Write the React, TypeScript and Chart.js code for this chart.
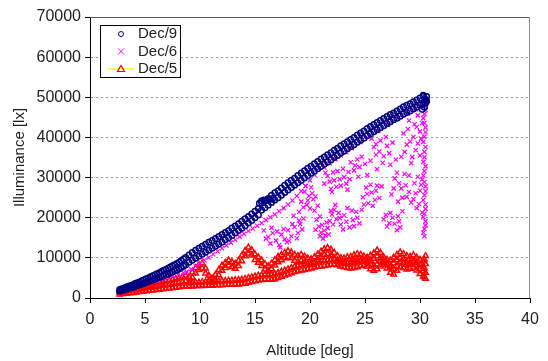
import React, { useEffect, useRef } from "react";
import { Chart, registerables } from "chart.js";

Chart.register(...registerables);

// ---------- Axis ranges ----------
const xMin = 0, xMax = 40, xStep = 5;
const yMin = 0, yMax = 70000, yStep = 10000;
const seriesNames = ["Dec/9", "Dec/6", "Dec/5"];

// ---------- Dec/9 (navy circles) ----------
const dec9LowAlt = [2.7, 2.9, 3.1, 3.3, 3.5, 3.7, 3.9, 4.1, 4.3, 4.5, 4.7, 4.9, 5.1, 5.3, 5.5, 5.7, 5.9, 6.1, 6.3, 6.5, 6.7, 6.9, 7.1, 7.3, 7.5, 7.7, 7.9, 8.1, 8.3, 8.5];
const dec9LowTop = [2100, 2300, 2500, 2700, 2900, 3100, 3300, 3600, 3800, 4000, 4300, 4500, 4800, 5000, 5300, 5500, 5800, 6000, 6300, 6600, 6900, 7100, 7400, 7700, 8000, 8300, 8600, 8900, 9300, 9700];
const dec9LowBottom = [1700, 1900, 2000, 2200, 2400, 2500, 2700, 2900, 3100, 3300, 3500, 3700, 3900, 4100, 4300, 4500, 4700, 4900, 5100, 5300, 5600, 5800, 6000, 6300, 6500, 6800, 7000, 7300, 7600, 7900];

const dec9MidAlt = [8.7, 9.0, 9.3, 9.6, 9.9, 10.2, 10.5, 10.8, 11.1, 11.4, 11.7, 12.0, 12.3, 12.6, 12.9, 13.2, 13.5, 13.8, 14.1, 14.4, 14.7, 15.0, 15.3];
const dec9MidUpper = [10100, 10700, 11300, 11900, 12400, 12900, 13400, 13900, 14300, 14800, 15300, 15800, 16300, 16800, 17400, 17900, 18500, 19100, 19700, 20300, 20900, 21600, 22300];
const dec9MidLower = [8300, 8900, 9400, 9900, 10400, 10900, 11400, 11900, 12400, 12900, 13400, 13900, 14500, 15000, 15600, 16200, 16800, 17400, 18000, 18700, 19300, 20000, 20700];

const dec9Step: [number, number][] = [[15.4, 23600], [15.6, 24200], [15.8, 24400], [16.0, 24300], [16.2, 24500], [16.4, 24600], [16.6, 24800]];

const dec9HighAlt = [15.6, 15.9, 16.2, 16.5, 16.8, 17.1, 17.4, 17.7, 18.0, 18.3, 18.6, 18.9, 19.2, 19.5, 19.8, 20.1, 20.4, 20.7, 21.0, 21.3, 21.6, 21.9, 22.2, 22.5, 22.8, 23.1, 23.4, 23.7, 24.0, 24.3, 24.6, 24.9, 25.2, 25.5, 25.8, 26.1, 26.4, 26.7, 27.0, 27.3, 27.6, 27.9, 28.2, 28.5, 28.8, 29.1, 29.4, 29.7, 30.0, 30.3];
const dec9HighUpper = [23700, 24300, 24800, 25600, 26200, 26700, 27400, 28100, 28700, 29300, 29800, 30500, 31100, 31700, 32300, 32800, 33400, 34000, 34600, 35100, 35700, 36200, 36800, 37300, 37900, 38400, 38900, 39500, 40000, 40600, 41100, 41600, 42200, 42700, 43200, 43700, 44200, 44700, 45200, 45700, 46100, 46600, 47100, 47600, 48000, 48400, 48900, 49300, 49800, 50200];
const dec9HighLower = [21900, 22500, 23100, 23800, 24400, 25000, 25600, 26300, 26900, 27500, 28100, 28700, 29300, 29900, 30500, 31100, 31600, 32200, 32800, 33300, 33900, 34400, 35000, 35500, 36100, 36600, 37200, 37700, 38200, 38800, 39300, 39800, 40400, 40900, 41400, 41900, 42400, 42900, 43400, 43900, 44400, 44800, 45300, 45800, 46200, 46600, 47100, 47500, 48000, 48400];

const dec9Tip: [number, number][] = [[30.4, 47500], [30.5, 48500], [30.5, 49500], [30.6, 50200], [30.3, 50500], [30.6, 49000], [30.2, 47000]];

// ---------- Dec/6 (magenta crosses) ----------
const dec6LowAlt = [3.0, 3.5, 4.0, 4.5, 5.0, 5.5, 6.0, 6.5, 7.0, 7.5, 8.0, 8.5];
const dec6LowLux = [1900, 2300, 2700, 3100, 3500, 3900, 4300, 4700, 5100, 5500, 5900, 6300];

const dec6LineAlt = [8.8, 9.2, 9.6, 10.0, 10.4, 10.8, 11.2, 11.6, 12.0, 12.4, 12.8, 13.2, 13.6, 14.0, 14.4, 14.8, 15.2, 15.6, 16.0, 16.4, 16.8, 17.2, 17.6, 18.0, 18.4, 18.8, 19.2, 19.6, 20.0, 20.4, 20.8];
const dec6LineLux = [6500, 7200, 7900, 8700, 9400, 10100, 10900, 11600, 12400, 13100, 13800, 14500, 15300, 16000, 16700, 17300, 18000, 18700, 19400, 20100, 20800, 21600, 22400, 23300, 24300, 25400, 26600, 27900, 29300, 30700, 32200];

const dec6Edge: [number, number][] = [[21.3, 32500], [21.8, 33500], [22.3, 34600], [22.8, 35500], [23.3, 36300], [23.8, 37300], [24.6, 38800], [25.4, 40300], [26.2, 41600], [27.1, 43200], [28.0, 44700], [28.9, 46000], [29.6, 47000]];

const dec6Cloud: [number, number][] = [
  [15.8, 16800], [16.2, 15200], [16.5, 17500], [16.9, 14300], [17.2, 13200], [17.4, 15800], [17.7, 14600], [18.0, 16900], [18.3, 15400], [18.6, 17700], [18.9, 16200], [19.1, 18400], [16.6, 16200], [17.9, 13900], [17.3, 12600],
  [16.0, 14800], [16.4, 13600], [17.0, 16600], [17.6, 17200], [18.1, 14200], [18.4, 18400], [18.8, 14900], [19.3, 17100], [19.0, 19300],
  [18.5, 20500], [19.0, 21500], [19.4, 19800],
  [19.2, 24000], [19.5, 26500], [19.7, 23200], [19.9, 25400], [20.1, 27600], [20.3, 24600], [19.6, 27900],
  [19.4, 22600], [19.8, 24300], [20.0, 22300], [20.2, 26100], [20.5, 25300], [20.7, 23000],
  [20.4, 21800], [20.6, 19500], [20.8, 17800], [21.0, 16300], [21.2, 14800], [21.4, 15600], [21.6, 17400], [21.8, 19200], [22.0, 20800], [22.2, 22000], [22.4, 19600], [22.6, 21200], [20.9, 20300], [21.5, 18800],
  [20.5, 17000], [20.9, 15400], [21.1, 18200], [21.3, 16800], [21.7, 15800], [21.9, 21700], [22.1, 18300], [22.3, 23200], [22.7, 19900],
  [21.3, 28500], [21.6, 30400], [21.9, 27200], [22.2, 29300], [22.5, 31600], [22.8, 28000], [23.1, 30100], [23.4, 27000], [23.6, 29600], [22.0, 26400],
  [21.4, 31200], [21.8, 29000], [22.1, 31300], [22.4, 27700], [22.7, 29600], [23.0, 32200], [23.3, 28500], [23.5, 31400],
  [22.8, 18300], [23.1, 20600], [23.4, 22400], [23.6, 17600], [23.9, 19400], [24.2, 21500], [24.5, 18600],
  [23.0, 17100], [23.3, 19000], [23.8, 21800], [24.0, 17900], [24.3, 20000], [24.7, 22000],
  [23.7, 33800], [24.0, 31800], [24.3, 34500], [24.5, 32600],
  [24.1, 33000], [24.4, 30200], [24.7, 35200], [25.0, 33400], [25.2, 30600],
  [24.8, 25100], [25.1, 27500], [25.3, 23600], [25.6, 26300], [25.9, 24400], [26.1, 28000],
  [24.9, 23300], [25.2, 25900], [25.5, 28200], [25.7, 23000], [26.0, 26700], [26.3, 24900], [26.5, 27800],
  [25.5, 34200], [25.8, 37600], [26.1, 32100], [26.4, 39200], [26.7, 35300], [27.0, 37900], [27.3, 33200], [26.0, 35700],
  [25.6, 39700], [26.0, 38300], [26.3, 36500], [26.6, 33700], [26.9, 40100], [27.2, 36100], [27.5, 38700], [27.8, 34500],
  [26.7, 19600], [27.0, 17800], [27.3, 21200], [27.7, 18500], [28.0, 20400], [28.2, 17600],
  [26.9, 20700], [27.2, 18700], [27.5, 20000], [27.9, 16900], [28.1, 19100], [28.4, 21600],
  [27.4, 25800], [27.7, 29800], [28.0, 24000], [28.3, 27300], [28.6, 30900], [28.8, 25200],
  [27.6, 27300], [27.9, 31200], [28.1, 28600], [28.4, 25000], [28.7, 28100], [29.0, 26400], [29.0, 30500],
  [28.3, 35200], [28.5, 41000], [28.8, 38200], [29.0, 44200], [29.2, 33600], [29.4, 40100], [29.6, 36800], [29.7, 42600],
  [28.6, 36400], [28.9, 42100], [29.1, 39000], [29.3, 35100], [29.5, 43300], [29.8, 38500], [30.0, 35500], [30.1, 39700],
  [29.2, 23800], [29.5, 28600], [29.7, 22400], [30.0, 26700], [30.2, 29500],
  [29.4, 24600], [29.6, 26100], [29.9, 23400], [30.1, 28200], [30.2, 21300], [29.8, 30200],
  [30.4, 15400], [30.4, 17200], [30.5, 19100], [30.4, 21000], [30.5, 23300], [30.4, 25600], [30.5, 27800], [30.3, 30500], [30.5, 32800], [30.4, 35100], [30.5, 37600], [30.4, 40200], [30.5, 42500], [30.3, 44800], [30.5, 46800],
  [30.3, 16300], [30.5, 18100], [30.3, 20100], [30.5, 22200], [30.3, 24400], [30.5, 26600], [30.4, 28900], [30.4, 31600], [30.3, 33900], [30.4, 36400], [30.3, 38900], [30.5, 41300], [30.4, 43600], [30.4, 45800], [30.3, 47700],
  [29.8, 45500], [30.0, 41500], [30.1, 47800], [30.2, 43600], [30.6, 48900]
];

// ---------- Dec/5 (red triangles) ----------
const dec5WedgeAlt = [2.7, 3.0, 3.3, 3.6, 3.9, 4.2, 4.5, 4.8, 5.1, 5.4, 5.7, 6.0, 6.3, 6.6, 6.9, 7.2, 7.5, 7.8, 8.1, 8.4, 8.7];
const dec5WedgeTop = [1900, 2100, 2200, 2400, 2600, 2700, 2900, 3000, 3200, 3400, 3500, 3700, 3900, 4000, 4200, 4400, 4600, 4800, 5000, 5300, 5600];
const dec5WedgeMid = [1400, 1500, 1700, 1800, 1900, 2100, 2200, 2300, 2500, 2600, 2700, 2900, 3000, 3100, 3300, 3400, 3500, 3700, 3800, 4000, 4200];
const dec5WedgeBottom = [900, 1000, 1100, 1200, 1300, 1400, 1500, 1600, 1700, 1800, 1900, 2000, 2100, 2200, 2300, 2400, 2500, 2600, 2700, 2800, 2900];

const dec5BandAlt = [9.0, 9.3, 9.6, 9.9, 10.2, 10.5, 10.8, 11.1, 11.4, 11.7, 12.0, 12.3, 12.6, 12.9, 13.2, 13.5, 13.8, 14.1, 14.4, 14.7, 15.0, 15.3, 15.6, 15.9, 16.2, 16.5, 16.8, 17.1, 17.4, 17.7, 18.0, 18.3, 18.6, 18.9, 19.2, 19.5, 19.8, 20.1, 20.4, 20.7, 21.0, 21.3, 21.6, 21.9, 22.2, 22.5, 22.8, 23.1, 23.4, 23.7, 24.0, 24.3, 24.6, 24.9, 25.2, 25.5, 25.8, 26.1, 26.4, 26.7, 27.0, 27.3, 27.6, 27.9, 28.2, 28.5, 28.8, 29.1, 29.4, 29.7, 30.0, 30.3];
const dec5UpperA = [5200, 6400, 7500, 8300, 8700, 7400, 5600, 4900, 5800, 7000, 8100, 8800, 9400, 9000, 8600, 9300, 10600, 11800, 12600, 12000, 10900, 10200, 9400, 8500, 8000, 8600, 9500, 10300, 10800, 11300, 11700, 11400, 10800, 10500, 10800, 10400, 9900, 9700, 10200, 10900, 11600, 12200, 12500, 12100, 11300, 10500, 10000, 9900, 10200, 10300, 10700, 11000, 10800, 10400, 10100, 10600, 11200, 11900, 11300, 10200, 9600, 9400, 10100, 10800, 11400, 11000, 10500, 10300, 10700, 10100, 9600, 9200];
const dec5UpperB = [4000, 5100, 6100, 7000, 7400, 6100, 4300, 3800, 4500, 5700, 6800, 7500, 8100, 7700, 7300, 8000, 9200, 10400, 11100, 10600, 9500, 8800, 8000, 7100, 6600, 7200, 8100, 8900, 9400, 9900, 10200, 9900, 9300, 9000, 9300, 8900, 8400, 8300, 8800, 9500, 10200, 10800, 11000, 10600, 9800, 9000, 8600, 8500, 8800, 8900, 9300, 9600, 9400, 9000, 8700, 9200, 9800, 10400, 9900, 8800, 8200, 8000, 8700, 9400, 10000, 9600, 9100, 8900, 9300, 8700, 8200, 7800];
const dec5LowerA = [2900, 2900, 3000, 3000, 3000, 3100, 3100, 3100, 3200, 3200, 3200, 3300, 3300, 3300, 3400, 3400, 3500, 3600, 3800, 4000, 4200, 4400, 4500, 4600, 4600, 4600, 4700, 5000, 5300, 5600, 5900, 6200, 6500, 6700, 6900, 7000, 7200, 7400, 7600, 7800, 7900, 8000, 8100, 8300, 8400, 8200, 7900, 7700, 7500, 7400, 7500, 7700, 8000, 8200, 7900, 7200, 6800, 7200, 7900, 8300, 7400, 6300, 5900, 6800, 7700, 7500, 7100, 7300, 7600, 6900, 6000, 5400];
const dec5LowerB = [3700, 3800, 3900, 3900, 4000, 4000, 4100, 4100, 4200, 4200, 4300, 4300, 4400, 4400, 4500, 4500, 4600, 4800, 5000, 5200, 5400, 5600, 5700, 5800, 5800, 5900, 6000, 6300, 6600, 6900, 7200, 7500, 7800, 8000, 8200, 8400, 8500, 8700, 8900, 9100, 9200, 9300, 9400, 9500, 9600, 9400, 9100, 8900, 8700, 8600, 8700, 8900, 9200, 9400, 9100, 8500, 8100, 8400, 9100, 9500, 8700, 7600, 7200, 8000, 8900, 8700, 8300, 8500, 8800, 8200, 7300, 6700];
const dec5Tail: [number, number][] = [[30.4, 5200], [30.5, 6300], [30.4, 7400], [30.5, 8500], [30.4, 9600], [30.5, 10500], [30.5, 4800]];

// ---------- helpers ----------
const zip = (xs: number[], ys: number[]) =>
  xs.map((x, i) => ({ x, y: ys[i] })).filter((p) => p.y !== undefined);
const fromPairs = (ps: [number, number][]) => ps.map(([x, y]) => ({ x, y }));

const FONT = "'Liberation Sans', Arial, Helvetica, sans-serif";

const framePlugin = {
  id: "frameAndLegend",
  afterDraw(chart: any) {
    const { ctx, chartArea } = chart;
    const { left, right, top, bottom } = chartArea;
    ctx.save();
    ctx.lineWidth = 1;
    ctx.strokeStyle = "#555555";
    ctx.beginPath();
    ctx.moveTo(left, top + 0.5);
    ctx.lineTo(right, top + 0.5);
    ctx.stroke();
    ctx.strokeStyle = "#8c8c8c";
    ctx.beginPath();
    ctx.moveTo(right - 0.5, top);
    ctx.lineTo(right - 0.5, bottom);
    ctx.stroke();

    // legend box
    const x0 = left + 10;
    const y0 = top + 8;
    const w = 80;
    const h = 52;
    ctx.fillStyle = "#ffffff";
    ctx.fillRect(x0, y0, w, h);
    ctx.strokeStyle = "#000000";
    ctx.strokeRect(x0 + 0.5, y0 + 0.5, w, h);
    const rows = [y0 + 9, y0 + 26.5, y0 + 44];
    const mx = x0 + 21;

    ctx.strokeStyle = "#000080";
    ctx.lineWidth = 1;
    ctx.beginPath();
    ctx.arc(mx, rows[0], 2.5, 0, Math.PI * 2);
    ctx.stroke();

    ctx.strokeStyle = "#FF00FF";
    const r = 3;
    ctx.beginPath();
    ctx.moveTo(mx - r, rows[1] - r);
    ctx.lineTo(mx + r, rows[1] + r);
    ctx.moveTo(mx + r, rows[1] - r);
    ctx.lineTo(mx - r, rows[1] + r);
    ctx.stroke();

    ctx.strokeStyle = "#FFFF00";
    ctx.lineWidth = 1.5;
    ctx.beginPath();
    ctx.moveTo(x0 + 8, rows[2]);
    ctx.lineTo(x0 + 34, rows[2]);
    ctx.stroke();
    ctx.strokeStyle = "#FF0000";
    ctx.lineWidth = 1.2;
    ctx.beginPath();
    ctx.moveTo(mx, rows[2] - 3.5);
    ctx.lineTo(mx + 3.5, rows[2] + 2.5);
    ctx.lineTo(mx - 3.5, rows[2] + 2.5);
    ctx.closePath();
    ctx.stroke();

    ctx.fillStyle = "#222222";
    ctx.font = `15px ${FONT}`;
    ctx.textBaseline = "middle";
    ctx.textAlign = "left";
    seriesNames.forEach((n, i) => ctx.fillText(n, x0 + 38, rows[i]));
    ctx.restore();
  },
};

export default function App() {
  const canvasRef = useRef<HTMLCanvasElement | null>(null);

  useEffect(() => {
    document.body.style.margin = "0";
    const canvas = canvasRef.current;
    if (!canvas) return;

    const dec9Data = [
      ...zip(dec9LowAlt, dec9LowTop),
      ...zip(dec9LowAlt, dec9LowBottom),
      ...zip(dec9MidAlt, dec9MidUpper),
      ...zip(dec9MidAlt, dec9MidLower),
      ...fromPairs(dec9Step),
      ...zip(dec9HighAlt, dec9HighUpper),
      ...zip(dec9HighAlt, dec9HighLower),
      ...fromPairs(dec9Tip),
    ];
    const dec6Data = [
      ...zip(dec6LowAlt, dec6LowLux),
      ...zip(dec6LineAlt, dec6LineLux),
      ...fromPairs(dec6Edge),
      ...fromPairs(dec6Cloud),
    ];
    const dec5Data = [
      ...zip(dec5WedgeAlt, dec5WedgeTop),
      ...zip(dec5WedgeAlt, dec5WedgeMid),
      ...zip(dec5WedgeAlt, dec5WedgeBottom),
      ...zip(dec5BandAlt, dec5UpperA),
      ...zip(dec5BandAlt, dec5UpperB),
      ...zip(dec5BandAlt, dec5LowerA),
      ...zip(dec5BandAlt, dec5LowerB),
      ...fromPairs(dec5Tail),
    ];

    const chart = new Chart(canvas, {
      type: "scatter",
      data: {
        datasets: [
          {
            label: seriesNames[0],
            data: dec9Data,
            pointStyle: "circle",
            pointRadius: 2.8,
            pointBorderWidth: 1.5,
            borderColor: "#000080",
            backgroundColor: "rgba(0,0,0,0)",
            showLine: false,
          },
          {
            label: seriesNames[1],
            data: dec6Data,
            pointStyle: "crossRot",
            pointRadius: 3,
            pointBorderWidth: 1.2,
            borderColor: "#FF00FF",
            backgroundColor: "rgba(0,0,0,0)",
            showLine: false,
          },
          {
            label: seriesNames[2],
            data: dec5Data,
            pointStyle: "triangle",
            pointRadius: 3.2,
            pointBorderWidth: 1.5,
            borderColor: "#FF0000",
            backgroundColor: "rgba(0,0,0,0)",
            showLine: false,
          },
        ],
      },
      options: {
        responsive: false,
        animation: false,
        events: [],
        layout: { padding: { top: 17, right: 18, left: 0, bottom: 0 } },
        plugins: {
          legend: { display: false },
          tooltip: { enabled: false },
        },
        scales: {
          x: {
            type: "linear",
            min: xMin,
            max: xMax,
            afterFit: (s: any) => {
              s.height = 63;
            },
            ticks: {
              stepSize: xStep,
              padding: 7,
              color: "#222222",
              font: { family: FONT, size: 16 },
              maxRotation: 0,
            },
            grid: {
              drawOnChartArea: false,
              drawTicks: true,
              tickLength: 5,
              tickColor: "#000000",
            },
            border: { display: true, color: "#000000", width: 1 },
            title: {
              display: true,
              text: "Altitude [deg]",
              color: "#222222",
              font: { family: FONT, size: 15 },
              padding: { top: 0, bottom: 1 },
            },
          },
          y: {
            type: "linear",
            min: yMin,
            max: yMax,
            afterFit: (s: any) => {
              s.width = 90;
            },
            ticks: {
              stepSize: yStep,
              padding: 4,
              color: "#222222",
              font: { family: FONT, size: 16 },
              callback: (v: any) => String(v),
            },
            grid: {
              color: "#9a9a9a",
              lineWidth: 1,
              drawTicks: true,
              tickLength: 5,
              tickColor: "#000000",
            },
            border: { display: true, color: "#000000", width: 1, dash: [2, 3] },
            title: {
              display: true,
              text: "Illuminance [lx]",
              color: "#222222",
              font: { family: FONT, size: 15 },
              padding: { top: 11, bottom: 0 },
            },
          },
        },
      },
      plugins: [framePlugin],
    });

    return () => chart.destroy();
  }, []);

  return (
    <div style={{ position: "relative", width: 548, height: 361 }}>
      <canvas ref={canvasRef} width={548} height={361} style={{ display: "block" }} />
    </div>
  );
}
